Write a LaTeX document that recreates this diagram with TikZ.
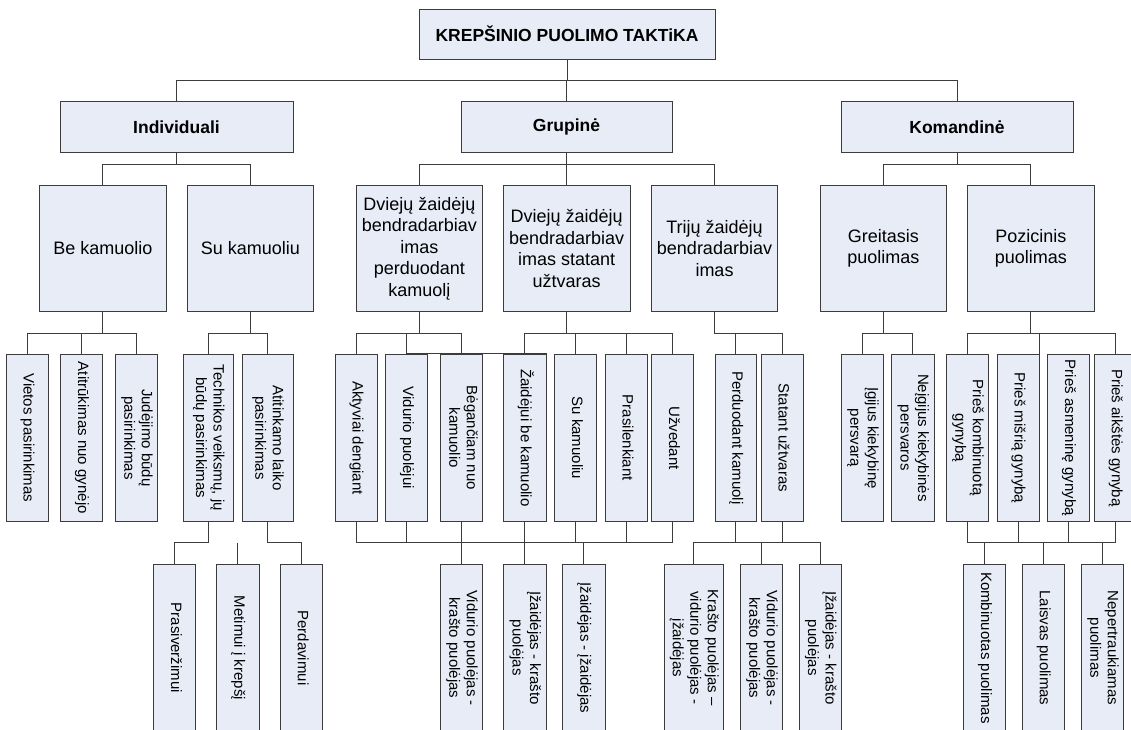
\documentclass[tikz,border=0pt]{standalone}
\usepackage{fontspec}
\setmainfont{Liberation Sans}
\usepackage{graphicx}

\definecolor{boxfill}{RGB}{231,236,247}
\definecolor{edge}{RGB}{60,60,60}

\tikzset{
  box/.style={draw=edge, fill=boxfill, line width=1pt, inner sep=0pt, align=center},
  conn/.style={draw=edge, line width=1pt},
  headbox/.style={box, font=\fontsize{17.5}{21}\selectfont\bfseries},
  midbox/.style={box, font=\fontsize{18}{21.5}\selectfont},
  leafbox/.style={box, font=\fontsize{15}{17.5}\selectfont},
}

% text set downwards inside the narrow boxes
\newcommand\vtext[1]{\rotatebox{-90}{\begin{tabular}{@{}c@{}}#1\end{tabular}}}
% box from corner (x1,y1) to corner (x2,y2): style, name, x1, y1, x2, y2, text
\newcommand\nbox[7]{\node[#1, minimum width={(#5-#3)*1pt}, minimum height={(#6-#4)*1pt}] (#2) at ({(#3+#5)/2},{(#4+#6)/2}) {#7};}

\begin{document}
\begin{tikzpicture}[x=1pt, y=-1pt]
\useasboundingbox (0,0) rectangle (1131,729);
\fill[white] (0,0) rectangle (1131,729);

% bus levels
\coordinate (b0) at (0,80.7);
\coordinate (b1) at (0,164.7);
\coordinate (b2) at (0,333);
\coordinate (b3) at (0,542.7);

% root and main branches
\nbox{headbox}{root}{419}{9}{715}{59.3}{KREPŠINIO PUOLIMO TAKTiKA}
\nbox{headbox}{ind}{60}{101.7}{293}{152}{Individuali}
\nbox{headbox}{grup}{461}{101.7}{672}{152}{Grupinė}
\nbox{headbox}{kom}{841}{101.7}{1073}{152}{Komandinė}

% second level
\nbox{midbox}{bek}{39.3}{185.7}{166.3}{311.3}{Be kamuolio}
\nbox{midbox}{suk}{187.3}{185.7}{313.7}{311.3}{Su kamuoliu}
\nbox{midbox}{dzp}{356}{185.7}{482.7}{311.3}{Dviejų žaidėjų\\bendradarbiav\\imas\\perduodant\\kamuolį}
\nbox{midbox}{dzs}{503.3}{185.7}{630}{311.3}{Dviejų žaidėjų\\bendradarbiav\\imas statant\\užtvaras}
\nbox{midbox}{tri}{651.3}{185.7}{777.7}{311.3}{Trijų žaidėjų\\bendradarbiav\\imas}
\nbox{midbox}{gre}{820}{185.7}{946.7}{311.3}{Greitasis\\puolimas}
\nbox{midbox}{poz}{967.7}{185.7}{1094}{311.3}{Pozicinis\\puolimas}

% third level
\nbox{leafbox}{vie}{6}{354}{48.3}{521.7}{\vtext{Vietos pasirinkimas}}
\nbox{leafbox}{atr}{60.7}{354}{102.7}{521.7}{\vtext{Atitrūkimas nuo gynėjo}}
\nbox{leafbox}{jud}{115.7}{354}{157.7}{521.7}{\vtext{Judėjimo būdų\\pasirinkimas}}
\nbox{leafbox}{tec}{183}{354}{233.7}{521.7}{\vtext{Technikos veiksmų, jų\\būdų pasirinkimas}}
\nbox{leafbox}{atl}{242.3}{354}{293}{521.7}{\vtext{Atitinkamo laiko\\pasirinkimas}}
\nbox{leafbox}{akt}{335}{354}{377}{521.7}{\vtext{Aktyviai dengiant}}
\nbox{leafbox}{vid}{385.7}{354}{427.7}{521.7}{\vtext{Vidurio puolėjui}}
\nbox{leafbox}{beg}{440.7}{354}{482.7}{521.7}{\vtext{Bėgančiam nuo\\kamuolio}}
\nbox{leafbox}{zai}{503.7}{354}{546}{521.7}{\vtext{Žaidėjui be kamuolio}}
\nbox{leafbox}{sukt}{554.7}{354}{596.7}{521.7}{\vtext{Su kamuoliu}}
\nbox{leafbox}{pra}{605}{354}{647.3}{521.7}{\vtext{Prasilenkiant}}
\nbox{leafbox}{uzv}{651.7}{354}{693.7}{521.7}{\vtext{Užvedant}}
\nbox{leafbox}{per}{715}{354}{756.7}{521.7}{\vtext{Perduodant kamuolį}}
\nbox{leafbox}{sta}{761}{354}{803.3}{521.7}{\vtext{Statant užtvaras}}
\nbox{leafbox}{igi}{841.3}{354}{883.7}{521.7}{\vtext{Įgijus kiekybinę\\persvarą}}
\nbox{leafbox}{nei}{891.7}{354}{934}{521.7}{\vtext{Neįgijus kiekybinės\\persvaros}}
\nbox{leafbox}{pkg}{946.7}{354}{988.7}{521.7}{\vtext{Prieš kombinuotą\\gynybą}}
\nbox{leafbox}{pmg}{997}{354}{1039}{521.7}{\vtext{Prieš mišrią gynybą}}
\nbox{leafbox}{pag}{1047.3}{354}{1089.7}{521.7}{\vtext{Prieš asmeninę gynybą}}
\nbox{leafbox}{pak}{1094}{354}{1136.6}{521.7}{\vtext{Prieš aikštės gynybą}}

% fourth level
\nbox{leafbox}{prv}{153.3}{564.3}{195.7}{731.5}{\vtext{Prasiveržimui}}
\nbox{leafbox}{met}{216.7}{564.3}{259}{731.5}{\vtext{Metimui į krepšį}}
\nbox{leafbox}{prd}{280.3}{564.3}{322.3}{731.5}{\vtext{Perdavimui}}
\nbox{leafbox}{vka}{440.3}{564.3}{482.7}{731.5}{\vtext{Vidurio puolėjas -\\krašto puolėjas}}
\nbox{leafbox}{ika}{503.7}{564.3}{546}{731.5}{\vtext{Įžaidėjas - krašto\\puolėjas}}
\nbox{leafbox}{iii}{562.6}{564.3}{605}{731.5}{\vtext{Įžaidėjas - įžaidėjas}}
\nbox{leafbox}{kvi}{664.5}{564.3}{723.4}{731.5}{\vtext{Krašto puolėjas –\\vidurio puolėjas -\\įžaidėjas}}
\nbox{leafbox}{vkb}{740.4}{564.3}{782.6}{731.5}{\vtext{Vidurio puolėjas -\\krašto puolėjas}}
\nbox{leafbox}{ikb}{799.2}{564.3}{841.5}{731.5}{\vtext{Įžaidėjas - krašto\\puolėjas}}
\nbox{leafbox}{kop}{963.3}{564.3}{1005.7}{731.5}{\vtext{Kombinuotas puolimas}}
\nbox{leafbox}{lap}{1022.3}{564.3}{1064.3}{731.5}{\vtext{Laisvas puolimas}}
\nbox{leafbox}{nep}{1081.3}{564.3}{1123.7}{731.5}{\vtext{Nepertraukiamas\\puolimas}}

% root to main branches
\foreach \c in {ind,grup,kom}
  \draw[conn] (root.south) |- (\c.north |- b0) -- (\c.north);

% main branches to second level
\foreach \p/\c in {ind/bek, ind/suk, grup/dzp, grup/dzs, grup/tri, kom/gre, kom/poz}
  \draw[conn] (\p.south) |- (\c.north |- b1) -- (\c.north);

% second level to third level
\foreach \p/\c in {bek/vie, bek/atr, bek/jud, suk/tec, suk/atl,
                   dzp/akt, dzp/vid, dzp/beg, dzs/zai, dzs/sukt, dzs/pra, dzs/uzv,
                   tri/per, tri/sta, gre/igi, gre/nei, poz/pkg, poz/pak}
  \draw[conn] (\p.south) |- (\c.north |- b2) -- (\c.north);
\draw[conn] (pmg.north east |- b2) -- (pmg.north east);
\draw[conn] (vid.north) -| (zai.east);

% technique choices to their kinds
\draw[conn] (tec.south) |- (prv.north |- b3) -- (prv.north);
\draw[conn] (atl.south) |- (prd.north |- b3) -- (prd.north);
\draw[conn] (met.north |- b3) -- (met.north);

% two-player cooperation to player pairs
\draw[conn] (akt.south) |- (uzv.south |- b3) -- (uzv.south);
\foreach \c in {vid, beg, zai, sukt, pra}
  \draw[conn] (\c.south) -- (\c.south |- b3);
\foreach \c in {vka, ika, iii}
  \draw[conn] (\c.north |- b3) -- (\c.north);

% three-player cooperation to player trios
\draw[conn] (kvi.north) |- (ikb.north |- b3) -- (ikb.north);
\foreach \c in {per, sta}
  \draw[conn] (\c.south) -- (\c.south |- b3);
\draw[conn] (vkb.north |- b3) -- (vkb.north);

% positional attack against defences to attack kinds
\draw[conn] (pkg.south) |- (pak.south |- b3) -- (pak.south);
\foreach \c in {pmg, pag}
  \draw[conn] (\c.south) -- (\c.south |- b3);
\foreach \c in {kop, lap, nep}
  \draw[conn] (\c.north |- b3) -- (\c.north);
\end{tikzpicture}
\end{document}
